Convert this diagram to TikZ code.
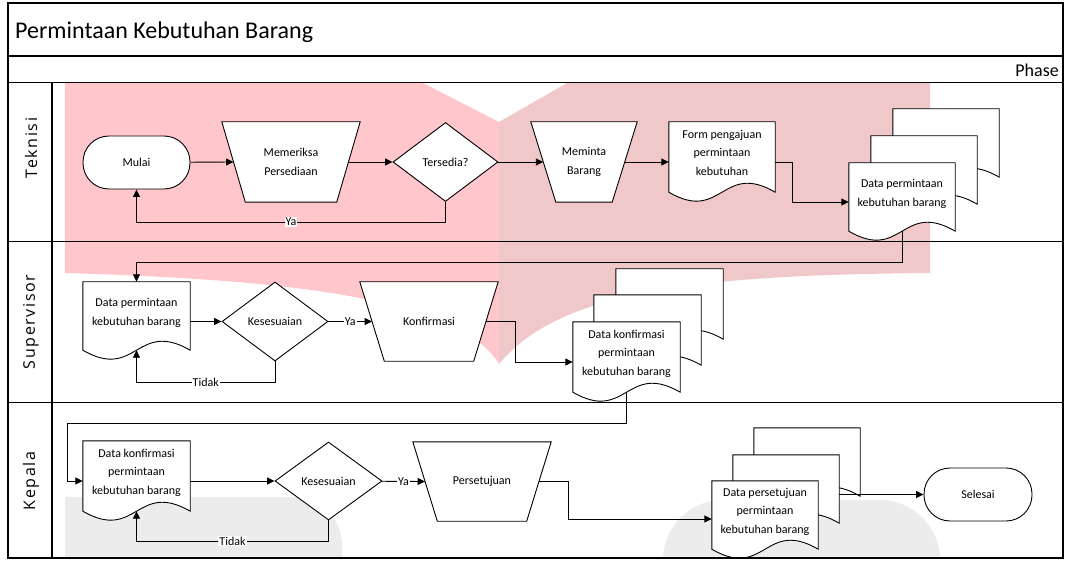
\documentclass[tikz,border=0pt]{standalone}
\usepackage{fontspec}
\setmainfont{Carlito}
\newfontfamily\lanefont{Open Sans}[LetterSpace=10]
\usetikzlibrary{shapes.geometric,arrows.meta,calc}
\definecolor{wmpinkA}{RGB}{255,199,203}
\definecolor{wmpinkB}{RGB}{241,200,202}
\definecolor{wmgrey}{RGB}{236,236,236}
\pgfdeclarelayer{wm}
\pgfdeclarelayer{shp}
\pgfsetlayers{wm,shp,main}
\newcommand\nodefont{\fontsize{12}{18.5}\selectfont}
\newcommand\docoutline[1]{\filldraw[shapeline,fill=white] (#1.south west) -- (#1.north west) -- (#1.north east) -- (#1.south east) .. controls ($(#1.south)+(0,-31)$) and ($(#1.south)+(0,31)$) .. (#1.south west) -- cycle;}
\newcommand\trapoutline[2]{\filldraw[shapeline,fill=white] (#1.north west) -- (#1.north east) -- ($(#1.south east)+(-#2,0)$) -- ($(#1.south west)+(#2,0)$) -- cycle;}
\tikzset{
  frame/.style={line width=1.3pt, draw=black},
  shapeline/.style={line width=0.9pt, draw=black},
  conn/.style={line width=0.9pt, draw=black},
  arr/.style={conn, -{Triangle[length=7.5pt,width=7pt]}},
  term/.style={shapeline, fill=white, rectangle, rounded corners=26pt, minimum width=107pt, minimum height=53pt, inner sep=0, font=\nodefont},
  trapbox/.style={draw=none, rectangle, minimum width=138pt, minimum height=79pt, inner sep=0, align=center, font=\nodefont},
  diam/.style={shapeline, fill=white, diamond, minimum width=106pt, minimum height=79pt, inner sep=0, font=\nodefont},
  doc/.style={draw=none, rectangle, minimum width=106pt, minimum height=68pt, inner sep=0, align=center, text depth=8.5pt, font=\nodefont},
  lbl/.style={fill=white, inner sep=1pt, font=\nodefont},
  lane/.style={rotate=90, font=\lanefont\fontsize{16}{19}\selectfont, inner sep=0},
}
\begin{document}
\begin{tikzpicture}[x=1pt,y=-1pt]
\useasboundingbox (0,0) rectangle (1065,561);
% watermark
\begin{pgfonlayer}{wm}
\fill[wmpinkA] (65,83) -- (423,83) -- (499,122) -- (499,364) .. controls (460,300) and (300,280) .. (65,273) -- cycle;
\fill[wmpinkB] (499,122) -- (567,83) -- (930,83) -- (930,273) .. controls (700,275) and (560,290) .. (499,364) -- cycle;
\begin{scope}
\clip (8,3) rectangle (1063,558);
\fill[wmgrey] (65,560) -- (65,497) -- (294,497) arc[start angle=-90,end angle=0,radius=48] -- (342,560) -- cycle;
\fill[wmgrey] (663,560) arc[start angle=180,end angle=270,radius=60] -- (880,500) arc[start angle=270,end angle=360,radius=60] -- cycle;
\end{scope}
\end{pgfonlayer}
% frame
\draw[frame] (8,3) rectangle (1063,558);
\draw[frame] (8,56) -- (1063,56);
\draw[frame] (8,82.5) -- (1063,82.5);
\draw[frame] (8,241.5) -- (1063,241.5);
\draw[frame] (8,402.5) -- (1063,402.5);
\draw[frame] (52,82.5) -- (52,558);
\node[anchor=base west, inner sep=0, font=\fontsize{24}{29}\selectfont] (title) at (15,39) {Permintaan Kebutuhan Barang};
\node[anchor=base east, inner sep=0, font=\fontsize{18}{22}\selectfont] (phase) at (1059,77) {Phase};
\node[lane] (l1) at (31,148) {Teknisi};
\node[lane] (l2) at (31,322) {Supervisor};
\node[lane] (l3) at (31,481) {Kepala};
% Teknisi
\node[term] (mulai) at (136.5,162.5) {Mulai};
\node[trapbox, minimum height=80pt] (memeriksa) at (291,162) {Memeriksa\\Persediaan};
\node[diam, minimum width=105pt] (tersedia) at (445.5,162) {Tersedia?};
\node[trapbox, minimum width=106pt, minimum height=80pt] (meminta) at (584,162) {Meminta\\Barang};
\node[doc, minimum height=70pt] (form) at (722,157) {Form pengajuan\\permintaan\\kebutuhan};
\node[doc] (dp3) at (946,143) {};
\node[doc] (dp2) at (924,170) {};
\node[doc] (dp1) at (902,197) {Data permintaan\\kebutuhan barang};
% Supervisor
\node[doc, minimum width=107pt] (sdoc) at (136.5,316) {Data permintaan\\kebutuhan barang};
\node[diam] (kes1) at (275,321.5) {Kesesuaian};
\node[trapbox] (konf) at (429,321.5) {Konfirmasi};
\node[doc, minimum width=107pt, minimum height=70pt] (dk3) at (669.5,304) {};
\node[doc, minimum width=107pt, minimum height=70pt] (dk2) at (647.5,330) {};
\node[doc, minimum width=107pt, minimum height=70pt] (dk1) at (626.5,357) {Data konfirmasi\\permintaan\\kebutuhan barang};
% Kepala
\node[doc, minimum width=107pt, minimum height=70pt] (kdoc) at (136.5,476) {Data konfirmasi\\permintaan\\kebutuhan barang};
\node[diam, minimum width=107pt, minimum height=78pt] (kes2) at (328.5,481) {Kesesuaian};
\node[trapbox] (pers) at (482,481.5) {Persetujuan};
\node[doc] (dps3) at (807,462) {};
\node[doc] (dps2) at (786,489) {};
\node[doc] (dps1) at (765,515) {Data persetujuan\\permintaan\\kebutuhan barang};
\node[term, minimum width=108pt] (selesai) at (978,494.5) {Selesai};
% outlines
\begin{pgfonlayer}{shp}
\trapoutline{memeriksa}{23.5}
\trapoutline{meminta}{25}
\trapoutline{konf}{24.5}
\trapoutline{pers}{24.5}
\docoutline{form}
\docoutline{dp3}\docoutline{dp2}\docoutline{dp1}
\docoutline{sdoc}
\docoutline{dk3}\docoutline{dk2}\docoutline{dk1}
\docoutline{kdoc}
\docoutline{dps3}\docoutline{dps2}\docoutline{dps1}
\end{pgfonlayer}
% connectors
\draw[arr] (mulai) -- ($(memeriksa.west)+(11.75,0)$);
\draw[arr] ($(memeriksa.east)+(-11.75,0)$) -- (tersedia);
\draw[arr] (tersedia) -- ($(meminta.west)+(12.5,0)$);
\draw[arr] (tersedia.south) -- (tersedia.south |- 0,222) -- node[lbl]{Ya} (mulai.south |- 0,222) -- (mulai.south);
\draw[arr] ($(meminta.east)+(-12.5,0)$) -- (meminta -| form.west);
\draw[arr] (form.east |- meminta) -- (792,162) -- (792,202) -- (dp1.west |- 0,202);
\draw[arr] (dp1.south) -- (dp1.south |- 0,262) -- (sdoc.north |- 0,262) -- (sdoc.north);
\draw[arr] (sdoc.east |- kes1) -- (kes1);
\draw[arr] (kes1) -- node[lbl]{Ya} ($(konf.west)+(12.25,0)$);
\draw[arr] (kes1.south) -- (kes1.south |- 0,382) -- node[lbl]{Tidak} (sdoc.south |- 0,382) -- (sdoc.south);
\draw[arr] ($(konf.east)+(-12.25,0)$) -- (515,321.5) -- (515,362) -- (dk1.west |- 0,362);
\draw[arr] (dk1.south) -- (dk1.south |- 0,423) -- (67,423) -- (67,481) -- (kdoc.west |- 0,481);
\draw[arr] (kdoc.east |- kes2) -- (kes2);
\draw[arr] (kes2) -- node[lbl]{Ya} ($(pers.west)+(12.25,0)$);
\draw[arr] (kes2.south) -- (kes2.south |- 0,541) -- node[lbl]{Tidak} (kdoc.south |- 0,541) -- (kdoc.south);
\draw[arr] ($(pers.east)+(-12.25,0)$) -- (568,481.5) -- (568,519) -- (dps1.west |- 0,519);
\draw[arr] (dps2.east |- selesai) -- (selesai);
\end{tikzpicture}
\end{document}
